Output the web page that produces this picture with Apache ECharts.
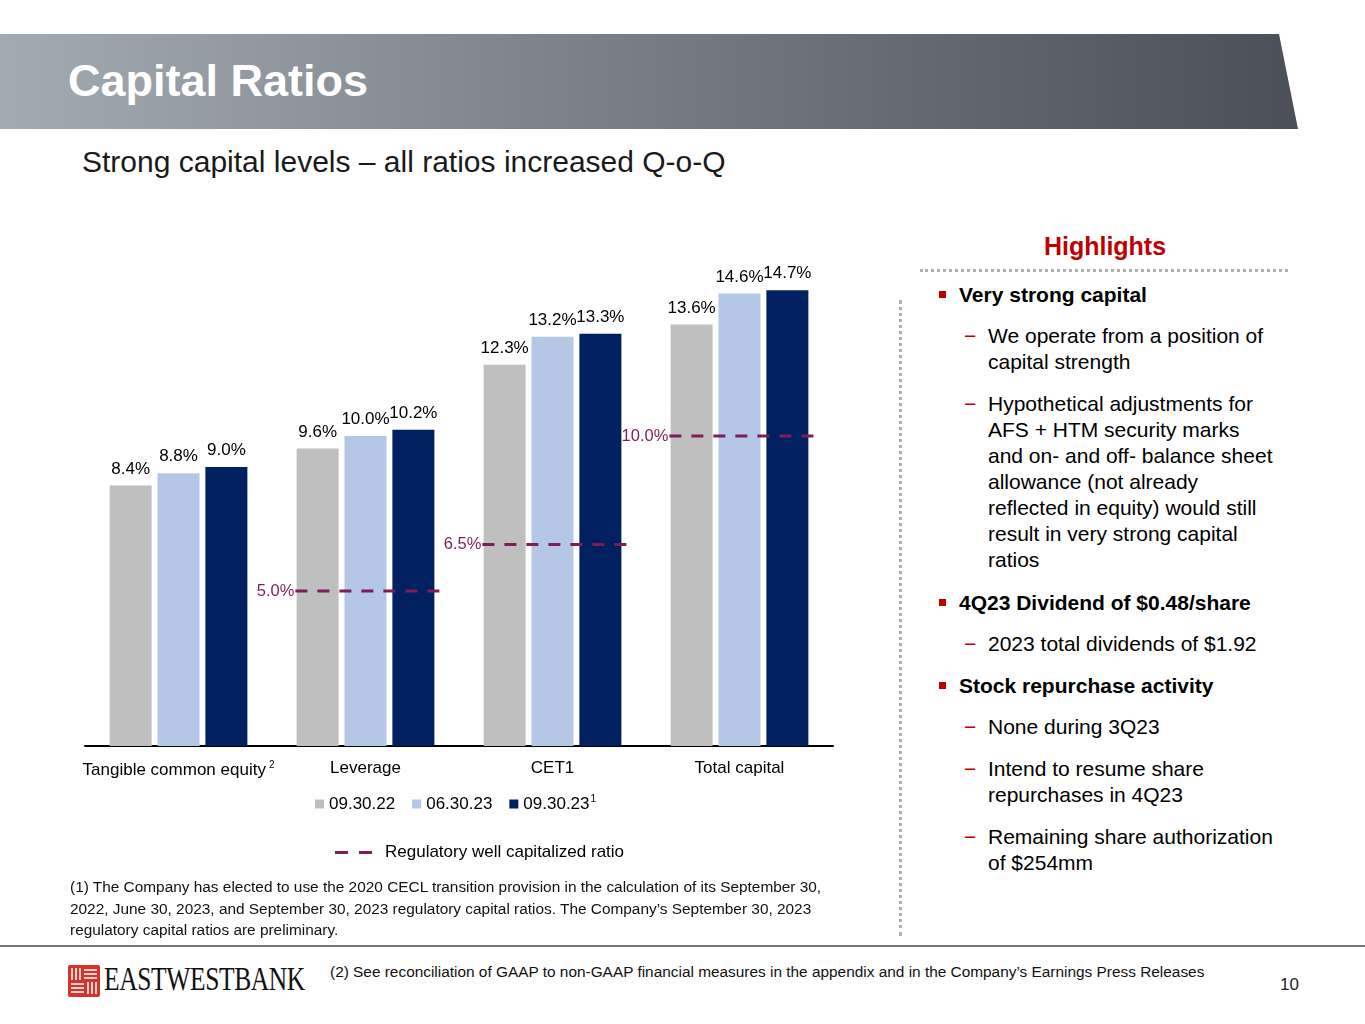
<!DOCTYPE html>
<html>
<head>
<meta charset="utf-8">
<script src="https://cdn.jsdelivr.net/npm/echarts@6/dist/echarts.min.js"></script>
<style>
  html, body { margin: 0; padding: 0; background: #fff; }
  body { width: 1365px; height: 1024px; position: relative; overflow: hidden;
         font-family: "Liberation Sans", Arial, sans-serif; color: #000; }
  .abs { position: absolute; }
  #banner { left: 0; top: 34px; width: 1298px; height: 95px;
            background: linear-gradient(to right, #a3abb2 0%, #7f858c 40%, #4b4f58 100%);
            clip-path: polygon(0 0, 1279px 0, 1298px 95px, 0 95px); }
  #title { left: 68px; top: 55px; font-size: 45px; font-weight: bold; color: #fff; }
  #subtitle { left: 82px; top: 145px; font-size: 30px; color: #1a1a1a; }
  #chart { left: 0; top: 200px; width: 880px; height: 680px; }
  #hl-title { left: 1000px; width: 210px; top: 232px; text-align: center;
              font-size: 25px; font-weight: bold; color: #c00000; }
  #hl-rule { left: 920px; top: 269px; width: 368px; height: 0;
             border-top: 3px dotted #b0b0b0; }
  #vrule { left: 899px; top: 300px; width: 0; height: 636px;
           border-left: 3px dotted #b0b0b0; }
  .item { position: absolute; font-size: 21px; line-height: 26px; }
  .b { left: 959px; font-weight: bold; }
  .b::before { content: ""; position: absolute; left: -20px; top: 9px; width: 7px; height: 7px; background: #c00000; }
  .s { left: 988px; }
  .s::before { content: "\2212"; position: absolute; left: -24px; top: 0; color: #c00000; }
  #fn1 { left: 70px; top: 876px; font-size: 15.4px; line-height: 21.5px; color: #111; }
  #botline { left: 0; top: 945px; width: 1365px; height: 2px; background: #777; }
  #fn2 { left: 330px; top: 963px; font-size: 15.4px; color: #111; }
  #page { left: 1280px; top: 975px; font-size: 17px; color: #222; }
  #logo { left: 68px; top: 965px; }
  #logotext { left: 104px; top: 960px; font-family: "Liberation Serif", "DejaVu Serif", serif;
              font-size: 34px; color: #111; transform: scaleX(0.75); transform-origin: left top;
              white-space: nowrap; letter-spacing: -0.5px; }
</style>
</head>
<body>
<div id="banner" class="abs"></div>
<div id="title" class="abs">Capital Ratios</div>
<div id="subtitle" class="abs">Strong capital levels – all ratios increased Q-o-Q</div>

<div id="chart" class="abs"></div>

<div id="hl-title" class="abs">Highlights</div>
<div id="hl-rule" class="abs"></div>
<div id="vrule" class="abs"></div>

<div class="item b" style="top:282px">Very strong capital</div>
<div class="item s" style="top:323px">We operate from a position of<br>capital strength</div>
<div class="item s" style="top:391px">Hypothetical adjustments for<br>AFS + HTM security marks<br>and on- and off- balance sheet<br>allowance (not already<br>reflected in equity) would still<br>result in very strong capital<br>ratios</div>
<div class="item b" style="top:590px">4Q23 Dividend of $0.48/share</div>
<div class="item s" style="top:631px">2023 total dividends of $1.92</div>
<div class="item b" style="top:673px">Stock repurchase activity</div>
<div class="item s" style="top:714px">None during 3Q23</div>
<div class="item s" style="top:756px">Intend to resume share<br>repurchases in 4Q23</div>
<div class="item s" style="top:824px">Remaining share authorization<br>of $254mm</div>

<div id="fn1" class="abs">(1) The Company has elected to use the 2020 CECL transition provision in the calculation of its September 30,<br>2022, June 30, 2023, and September 30, 2023 regulatory capital ratios. The Company’s September 30, 2023<br>regulatory capital ratios are preliminary.</div>
<div id="botline" class="abs"></div>

<svg id="logo" class="abs" width="32" height="32" viewBox="0 0 32 32">
  <rect x="0" y="0" width="32" height="32" rx="2" fill="#d9322b"/>
  <g stroke="#fff" stroke-width="1.6">
    <line x1="4" y1="3" x2="4" y2="15"/><line x1="8" y1="3" x2="8" y2="15"/><line x1="12" y1="3" x2="12" y2="15"/>
    <line x1="16" y1="5" x2="29" y2="5"/><line x1="16" y1="9" x2="29" y2="9"/><line x1="16" y1="13" x2="29" y2="13"/>
    <line x1="3" y1="19" x2="16" y2="19"/><line x1="3" y1="23" x2="16" y2="23"/><line x1="3" y1="27" x2="16" y2="27"/>
    <line x1="20" y1="17" x2="20" y2="29"/><line x1="24" y1="17" x2="24" y2="29"/><line x1="28" y1="17" x2="28" y2="29"/>
  </g>
</svg>
<div id="logotext" class="abs">EASTWESTBANK</div>
<div id="fn2" class="abs">(2) See reconciliation of GAAP to non-GAAP financial measures in the appendix and in the Company’s Earnings Press Releases</div>
<div id="page" class="abs">10</div>

<script>
// categories and values
var categories = ['Tangible common equity', 'Leverage', 'CET1', 'Total capital'];
var seriesNames = ['09.30.22', '06.30.23', '09.30.23'];
var sep22 = [8.4, 9.6, 12.3, 13.6];
var jun23 = [8.8, 10.0, 13.2, 14.6];
var sep23 = [9.0, 10.2, 13.3, 14.7];
// regulatory well capitalized ratio: [category index, value]
var regulatory = [[1, 5.0], [2, 6.5], [3, 10.0]];
var regName = 'Regulatory well capitalized ratio';
var colors = ['#BFBFBF', '#B4C7E7', '#002060'];
var regColor = '#7B1F5A';

var chart = echarts.init(document.getElementById('chart'));

function barSeries(name, data, color) {
  return {
    name: name,
    type: 'bar',
    data: data,
    barWidth: 42,
    barGap: '14%',
    itemStyle: { color: color },
    label: {
      show: true,
      position: 'top',
      distance: 8,
      color: '#000',
      fontSize: 17,
      fontFamily: 'Liberation Sans',
      formatter: function (p) { return p.value.toFixed(1) + '%'; }
    }
  };
}

var option = {
  animation: false,
  textStyle: { fontFamily: 'Liberation Sans' },
  grid: { left: 85, top: 50, width: 748, height: 496 },
  legend: [
    {
      data: seriesNames.map(function (n) { return { name: n, icon: 'rect' }; }),
      top: 589,
      left: 310,
      itemWidth: 9,
      itemHeight: 9,
      itemGap: 17,
      textStyle: {
        fontSize: 17,
        color: '#000',
        rich: {
          n: { fontSize: 17, color: '#000' },
          s: { fontSize: 10, color: '#000', verticalAlign: 'top', padding: [0, 0, 10, 1] }
        }
      },
      formatter: function (name) {
        return name === '09.30.23' ? '{n|' + name + '}{s|1}' : '{n|' + name + '}';
      },
      selectedMode: false
    },
    {
      data: [{ name: regName, icon: 'path://M0,0H13V3H0Z M24,0H37V3H24Z' }],
      top: 639,
      left: 330,
      itemWidth: 37,
      itemHeight: 3,
      textStyle: { fontSize: 17, color: '#000', padding: [0, 0, 0, 8] },
      selectedMode: false
    }
  ],
  xAxis: {
    type: 'category',
    data: categories,
    axisTick: { show: false },
    axisLine: { lineStyle: { color: '#000', width: 2 } },
    axisLabel: {
      fontSize: 17,
      color: '#000',
      margin: 14,
      interval: 0,
      formatter: function (v, i) {
        return i === 0 ? '{n|' + v + '}{s|2}' : '{n|' + v + '}';
      },
      rich: {
        n: { fontSize: 17, color: '#000' },
        s: { fontSize: 10, color: '#000', verticalAlign: 'top', padding: [0, 0, 10, 3] }
      }
    }
  },
  yAxis: {
    type: 'value',
    min: 0,
    max: 16,
    show: false
  },
  series: [
    barSeries(seriesNames[0], sep22, colors[0]),
    barSeries(seriesNames[1], jun23, colors[1]),
    barSeries(seriesNames[2], sep23, colors[2]),
    {
      name: regName,
      type: 'custom',
      data: regulatory,
      itemStyle: { color: regColor },
      z: 5,
      renderItem: function (params, api) {
        var c = api.coord([api.value(0), api.value(1)]);
        var bw = api.size([1, 0])[0];
        var x1 = c[0] - 0.375 * bw;
        var x2 = c[0] + 0.43 * bw;
        return {
          type: 'group',
          children: [
            {
              type: 'line',
              shape: { x1: x1, y1: c[1], x2: x2, y2: c[1] },
              style: { stroke: regColor, lineWidth: 3, lineDash: [12, 10] }
            },
            {
              type: 'text',
              style: {
                x: x1 - 1, y: c[1],
                text: api.value(1).toFixed(1) + '%',
                fill: regColor,
                font: '16.5px "Liberation Sans"',
                align: 'right',
                verticalAlign: 'middle'
              }
            }
          ]
        };
      }
    }
  ]
};

chart.setOption(option);
</script>
</body>
</html>
